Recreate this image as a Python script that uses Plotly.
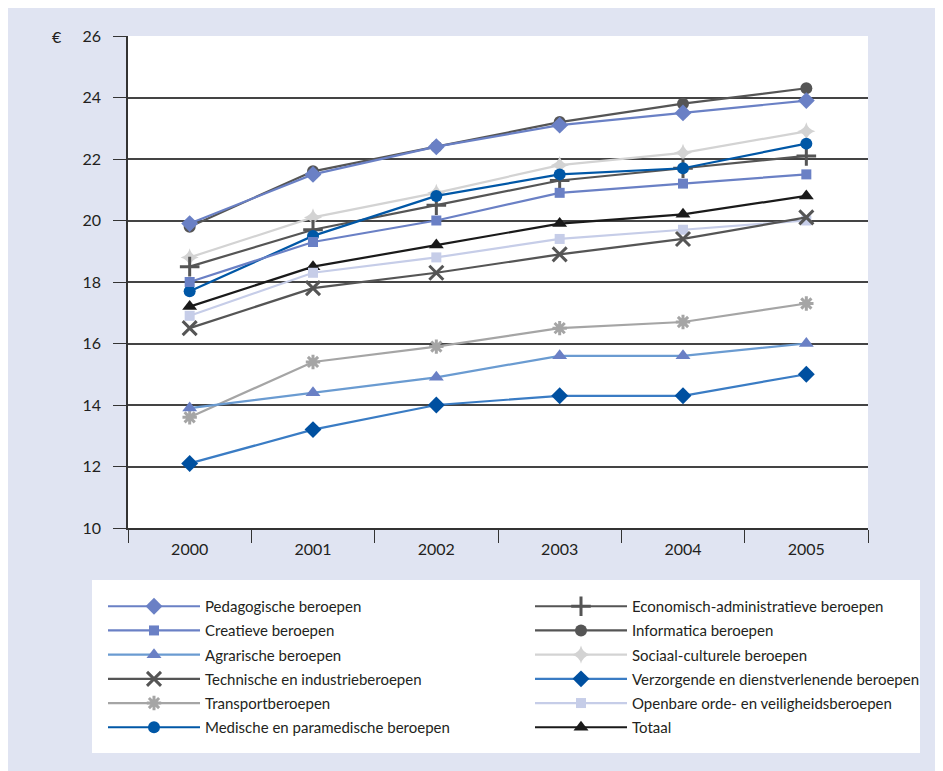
import plotly.graph_objects as go

years = ["2000", "2001", "2002", "2003", "2004", "2005"]
y_ticks = [10, 12, 14, 16, 18, 20, 22, 24, 26]

pedagogische = [19.9, 21.5, 22.4, 23.1, 23.5, 23.9]
creatieve = [18.0, 19.3, 20.0, 20.9, 21.2, 21.5]
agrarische = [13.9, 14.4, 14.9, 15.6, 15.6, 16.0]
technische = [16.5, 17.8, 18.3, 18.9, 19.4, 20.1]
transport = [13.6, 15.4, 15.9, 16.5, 16.7, 17.3]
medische = [17.7, 19.5, 20.8, 21.5, 21.7, 22.5]
economisch = [18.5, 19.7, 20.5, 21.3, 21.7, 22.1]
informatica = [19.8, 21.6, 22.4, 23.2, 23.8, 24.3]
sociaal = [18.8, 20.1, 20.9, 21.8, 22.2, 22.9]
verzorgende = [12.1, 13.2, 14.0, 14.3, 14.3, 15.0]
openbare = [16.9, 18.3, 18.8, 19.4, 19.7, 20.0]
totaal = [17.2, 18.5, 19.2, 19.9, 20.2, 20.8]

FONT = "Lato, Roboto, Liberation Sans, sans-serif"
FS = 16
FS_LEG = 15
TXT = "#231F20"

# (name, values, line colour, marker symbol, marker colour, size, open?, legend, rank)
series = [
    ("Informatica beroepen", informatica, "#555555", "circle", "#555555", 12, False, "legend2", 2),
    ("Sociaal-culturele beroepen", sociaal, "#D3D3D3", "star-diamond", "#D3D3D3", 13, False, "legend2", 3),
    ("Economisch-administratieve beroepen", economisch, "#555555", "cross-thin-open", "#555555", 14, True, "legend2", 1),
    ("Medische en paramedische beroepen", medische, "#0057A6", "circle", "#0057A6", 12, False, "legend", 6),
    ("Creatieve beroepen", creatieve, "#6A80C5", "square", "#6A80C5", 10, False, "legend", 2),
    ("Totaal", totaal, "#1A1A1A", "triangle-up", "#1A1A1A", 13, False, "legend2", 6),
    ("Openbare orde- en veiligheidsberoepen", openbare, "#C6CDE8", "square", "#C6CDE8", 10, False, "legend2", 5),
    ("Technische en industrieberoepen", technische, "#555555", "x-thin-open", "#555555", 14, True, "legend", 4),
    ("Transportberoepen", transport, "#A5A5A5", "asterisk-open", "#A5A5A5", 12, True, "legend", 5),
    ("Agrarische beroepen", agrarische, "#6A9BD1", "triangle-up", "#6A80C5", 13, False, "legend", 3),
    ("Verzorgende en dienstverlenende beroepen", verzorgende, "#3A7CC4", "diamond", "#0050A0", 13, False, "legend2", 4),
    ("Pedagogische beroepen", pedagogische, "#6A80C5", "diamond", "#6A80C5", 13, False, "legend", 1),
]

fig = go.Figure()
for name, vals, lc, sym, mc, size, is_open, leg, rank in series:
    marker = dict(symbol=sym, size=size, color=mc)
    if is_open:
        marker["line"] = dict(color=mc, width=3)
    else:
        marker["line"] = dict(width=0)
    fig.add_trace(go.Scatter(
        x=years, y=vals, name=name, mode="lines+markers",
        line=dict(color=lc, width=2.2), marker=marker,
        legend=leg, legendrank=rank, legendgroup=name,
    ))

# figure coordinates (page adds an 8px body margin)
W, H = 943, 771
L, R, T, B = 120, 860, 28, 520
pw, ph = R - L, B - T

def px(xp):
    return (xp - L) / pw

def py(yp):
    return (B - yp) / ph

shapes = [
    dict(type="rect", xref="paper", yref="paper", x0=px(84), x1=px(912), y0=py(745), y1=py(572),
         fillcolor="white", line=dict(width=0), layer="below"),
]

legend_common = dict(xanchor="left", yanchor="top", xref="container", yref="container",
                     bgcolor="rgba(0,0,0,0)", itemwidth=92, tracegroupgap=1.7,
                     traceorder="grouped",
                     font=dict(family=FONT, size=FS_LEG, color=TXT))

fig.update_layout(
    width=W, height=H,
    margin=dict(l=L, r=W - R, t=T, b=H - B, pad=0, autoexpand=False),
    paper_bgcolor="#E0E4F2",
    plot_bgcolor="white",
    font=dict(family=FONT, size=FS, color=TXT),
    shapes=shapes,
    showlegend=True,
    legend=dict(x=95 / W, y=1 - 582 / H, **legend_common),
    legend2=dict(x=522 / W, y=1 - 582 / H, **legend_common),
    annotations=[dict(text="€", xref="paper", yref="paper", x=px(49), y=1.0,
                      xanchor="center", yanchor="middle", showarrow=False,
                      font=dict(family=FONT, size=FS, color=TXT))],
)

fig.update_xaxes(
    type="category", range=[-0.5, 5.5], tickson="boundaries",
    ticks="outside", ticklen=13, tickwidth=1.3, tickcolor="#333333",
    showline=True, linecolor="#333333", linewidth=1.5,
    showgrid=False, zeroline=False, ticklabelstandoff=6,
    tickfont=dict(family=FONT, size=FS, color=TXT),
)
fig.update_yaxes(
    range=[10, 26], tickvals=y_ticks, ticks="outside", ticklen=13,
    tickwidth=1.3, tickcolor="#333333",
    showline=True, linecolor="#333333", linewidth=1.5,
    showgrid=True, gridcolor="#444444", gridwidth=1.5, zeroline=False,
    ticklabelstandoff=9,
    tickfont=dict(family=FONT, size=FS, color=TXT),
)

fig.write_html("out.html")
